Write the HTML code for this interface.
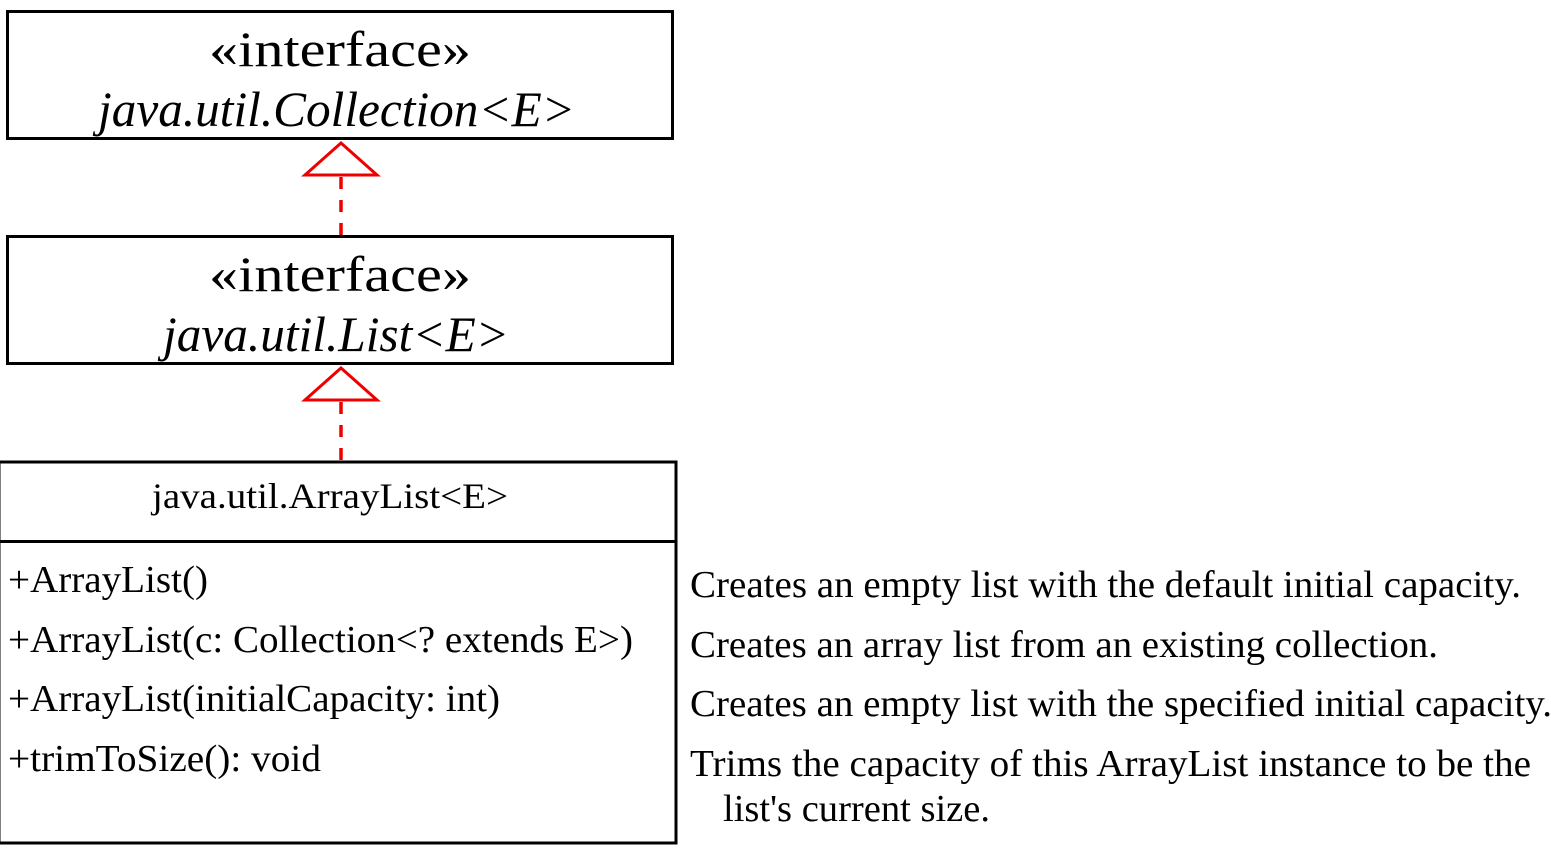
<!DOCTYPE html>
<html><head><meta charset="utf-8"><style>
html,body{margin:0;padding:0;background:#fff;}
svg{display:block;}
text{font-family:"Liberation Serif",serif;fill:#000;}
</style></head><body>
<svg width="1551" height="849" viewBox="0 0 1551 849" xmlns="http://www.w3.org/2000/svg">
<rect x="7.5" y="11.5" width="665" height="127" fill="none" stroke="#000" stroke-width="3"/>
<text x="209" y="66" font-size="50" textLength="262" lengthAdjust="spacingAndGlyphs">«interface»</text>
<text x="98" y="126" font-size="50" font-style="italic" textLength="477" lengthAdjust="spacingAndGlyphs">java.util.Collection&lt;E&gt;</text>

<rect x="7.5" y="236.5" width="665" height="127" fill="none" stroke="#000" stroke-width="3"/>
<text x="209" y="291" font-size="50" textLength="262" lengthAdjust="spacingAndGlyphs">«interface»</text>
<text x="163" y="351" font-size="50" font-style="italic" textLength="346" lengthAdjust="spacingAndGlyphs">java.util.List&lt;E&gt;</text>

<g stroke="#e00" stroke-width="3" fill="none">
<polygon points="341,143 377,175 305,175" fill="#fff"/>
<line x1="341" y1="177" x2="341" y2="236" stroke-dasharray="12,11" stroke-width="3.5"/>
<polygon points="341,368 377,400 305,400" fill="#fff"/>
<line x1="341" y1="402" x2="341" y2="461" stroke-dasharray="12,11" stroke-width="3.5"/>
</g>

<rect x="-1" y="462" width="677" height="381" fill="none" stroke="#000" stroke-width="3"/>
<line x1="0" y1="541.5" x2="677" y2="541.5" stroke="#000" stroke-width="3"/>
<text x="152" y="508" font-size="36" textLength="356" lengthAdjust="spacingAndGlyphs">java.util.ArrayList&lt;E&gt;</text>

<g font-size="38">
<text x="8" y="592" textLength="200" lengthAdjust="spacingAndGlyphs">+ArrayList()</text>
<text x="8" y="652" textLength="625" lengthAdjust="spacingAndGlyphs">+ArrayList(c: Collection&lt;? extends E&gt;)</text>
<text x="8" y="711" textLength="492" lengthAdjust="spacingAndGlyphs">+ArrayList(initialCapacity: int)</text>
<text x="8" y="771" textLength="313" lengthAdjust="spacingAndGlyphs">+trimToSize(): void</text>
<text x="690" y="597" textLength="831" lengthAdjust="spacingAndGlyphs">Creates an empty list with the default initial capacity.</text>
<text x="690" y="657" textLength="748" lengthAdjust="spacingAndGlyphs">Creates an array list from an existing collection.</text>
<text x="690" y="716" textLength="862" lengthAdjust="spacingAndGlyphs">Creates an empty list with the specified initial capacity.</text>
<text x="690" y="776" textLength="841" lengthAdjust="spacingAndGlyphs">Trims the capacity of this ArrayList instance to be the</text>
<text x="723" y="821" textLength="267" lengthAdjust="spacingAndGlyphs">list's current size.</text>
</g>
</svg>
</body></html>
